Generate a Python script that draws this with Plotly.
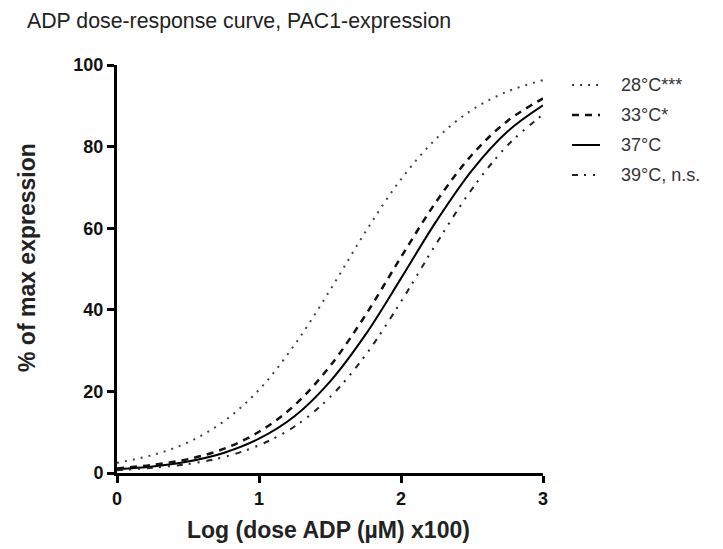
import plotly.graph_objects as go

# log dose (x) sample positions
log_dose = [0, 0.25, 0.5, 0.75, 1.0, 1.25, 1.5, 1.75, 2.0, 2.25, 2.5, 2.75, 3.0]

# % of max expression
t28 = [2.5, 4.4, 7.5, 12.6, 20.4, 31.4, 44.8, 59.1, 72.0, 82.0, 89.0, 93.5, 96.3]
t33 = [1.1, 2.0, 3.4, 5.9, 10.1, 16.6, 26.2, 38.7, 52.9, 66.6, 78.0, 86.3, 91.8]
t37 = [0.9, 1.6, 2.8, 4.9, 8.4, 13.9, 22.4, 33.9, 47.7, 61.8, 74.2, 83.7, 90.1]
t39 = [0.7, 1.3, 2.2, 3.9, 6.8, 11.4, 18.6, 28.9, 42.0, 56.3, 69.6, 80.3, 87.9]

series_names = ["28°C***", "33°C*", "37°C", "39°C, n.s."]
x_ticks = [0, 1, 2, 3]
y_ticks = [0, 20, 40, 60, 80, 100]

W, H = 723, 549
L, R, T, B = 117, 180, 65, 76
PW, PH = W - L - R, H - T - B

styles = [
    dict(color="#444444", width=2, dash="2px,6px"),
    dict(color="#111111", width=2.5, dash="7px,6px"),
    dict(color="#000000", width=2, dash="solid"),
    dict(color="#222222", width=2, dash="6px,6px,2px,7px,2px,7px"),
]

FONT = "Liberation Sans, Arial, sans-serif"

fig = go.Figure()
for i, (name, ys) in enumerate(zip(series_names, [t28, t33, t37, t39])):
    fig.add_trace(go.Scatter(
        x=log_dose, y=ys, mode="lines", name=name,
        line=dict(shape="spline", smoothing=1.0, **styles[i]),
        hoverinfo="skip", showlegend=False,
    ))

def px_x(p):
    return (p - L) / PW

def px_y(p):
    return (H - B - p) / PH

# manual legend: sample lines + labels
shapes = []
annotations = []
for i, name in enumerate(series_names):
    yc = 85 + 30 * i
    shapes.append(dict(type="line", xref="paper", yref="paper",
                       x0=px_x(572), x1=px_x(600), y0=px_y(yc), y1=px_y(yc),
                       line=styles[i]))
    annotations.append(dict(text=name, xref="paper", yref="paper",
                            x=px_x(619), y=px_y(yc), xanchor="left", yanchor="middle",
                            showarrow=False, font=dict(size=18, color="#333333", family=FONT)))

annotations += [
    dict(text="<b>Log (dose ADP (µM) x100)</b>", xref="paper", yref="paper",
         x=px_x(328), y=px_y(530), xanchor="center", yanchor="middle",
         showarrow=False, font=dict(size=23, color="#222222", family=FONT)),
    dict(text="<b>% of max expression</b>", xref="paper", yref="paper",
         x=px_x(27), y=px_y(258), xanchor="center", yanchor="middle",
         textangle=-90, showarrow=False, font=dict(size=23, color="#222222", family=FONT)),
]

axis_common = dict(showgrid=False, zeroline=False, showline=True, linecolor="black",
                   linewidth=3, ticks="outside", ticklen=7, tickwidth=2.5, tickcolor="black",
                   tickfont=dict(size=18, color="#111111", family=FONT, weight="bold"),
                   fixedrange=True)

fig.update_layout(
    width=W, height=H,
    margin=dict(l=L, r=R, t=T, b=B),
    paper_bgcolor="white", plot_bgcolor="white",
    font=dict(family=FONT, color="#222222"),
    title=dict(text="ADP dose-response curve, PAC1-expression",
               x=27/W, xanchor="left", xref="container",
               y=1 - 21/H, yanchor="middle", yref="container",
               font=dict(size=21.3, color="#222222", family=FONT)),
    showlegend=False,
    xaxis=dict(range=[0, 3], tickvals=x_ticks, ticktext=[str(v) for v in x_ticks], **axis_common),
    yaxis=dict(range=[0, 100], tickvals=y_ticks, ticktext=[str(v) for v in y_ticks], **axis_common),
    shapes=shapes,
    annotations=annotations,
)

fig.write_html("out.html", config={"displayModeBar": False},
               post_script="document.body.style.margin='0px';")
